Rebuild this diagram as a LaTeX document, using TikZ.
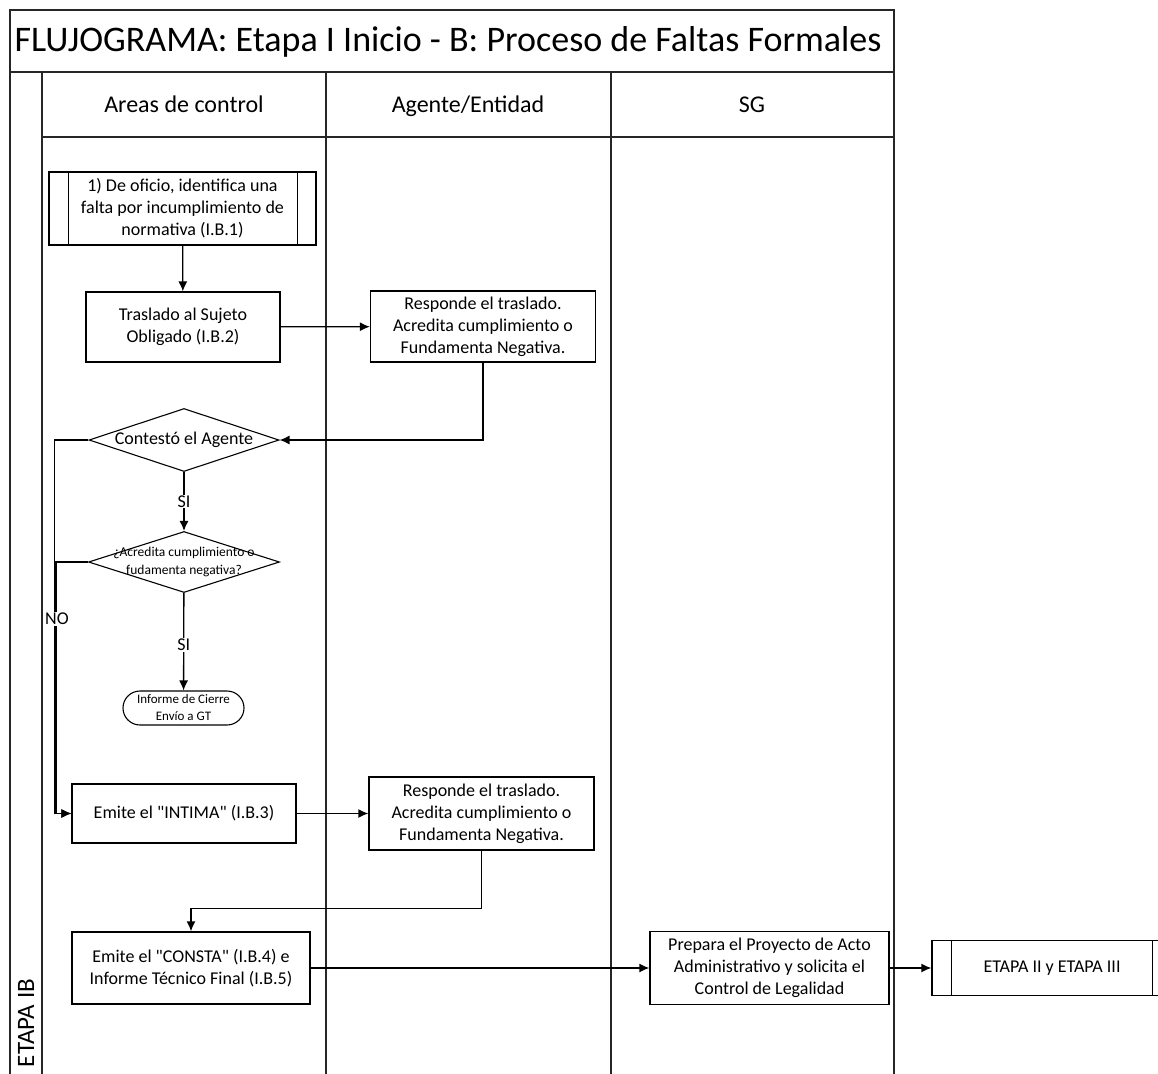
\documentclass[tikz,border=0pt]{standalone}
\usepackage{fontspec}
\setmainfont{Carlito}
\usetikzlibrary{shapes.geometric,positioning,arrows.meta}
\tikzstyle{arrow} = [line width=1.3pt,-{Latex[length=10pt,width=9pt]}]
\tikzset{
 lane/.style
  = {line width=1.3pt, black!85},
 head/.style
  = {font=\fontsize{24}{28}\selectfont, anchor=base},
 b/.style
  = {rectangle, draw, line width=1.3pt, align=center, inner sep=0pt,
     font=\fontsize{18}{22}\selectfont},
 d/.style
  = {diamond, draw, line width=1.1pt, inner sep=0pt},
 t/.style
  = {rectangle, draw, rounded corners=17pt, line width=1.1pt, align=center,
     inner sep=0pt, font=\fontsize{13}{17}\selectfont},
 lb/.style
  = {fill=white, inner sep=1pt, font=\fontsize{18}{20}\selectfont},
}

\begin{document}
\begin{tikzpicture}[x=1pt,y=-1pt]
    \useasboundingbox (0,0) rectangle (1158,1073);

    % frame and lanes
    \draw [lane] (10,1080) -- (10,10) -- (894,10) -- (894,1080);
    \draw [lane] (10,72) -- (894,72);
    \draw [lane] (42,137) -- (894,137);
    \foreach \x in {42,326,611}
      \draw [lane] (\x,72) -- (\x,1080);

    \node (title) at (448,42) {\fontsize{36}{40}\selectfont FLUJOGRAMA: Etapa I Inicio - B: Proceso de Faltas Formales};
    \node [head] (areas) at (184,112) {Areas de control};
    \node [head] (agente) at (468,112) {Agente/Entidad};
    \node [head] (sg) at (752,112) {SG};
    \node [font=\fontsize{25}{28}\selectfont, rotate=90] (etapa) at (26,1023) {ETAPA IB};

    % steps
    \node [b, minimum width=267, minimum height=73] (oficio) at (182.5,208.5) {1) De oficio, identifica una\\falta por incumplimiento de\\normativa (I.B.1)};
    \draw [line width=1.3pt] ([xshift=20]oficio.north west) -- ([xshift=20]oficio.south west);
    \draw [line width=1.3pt] ([xshift=-19]oficio.north east) -- ([xshift=-19]oficio.south east);
    \node [b, minimum width=194, minimum height=70] (traslado) at (183,327) {Traslado al Sujeto\\Obligado (I.B.2)};
    \node [b, minimum width=225, minimum height=71] (responde1) at (483,326.5) {Responde el traslado.\\Acredita cumplimiento o\\Fundamenta Negativa.};
    \node [d, minimum width=190, minimum height=63,
           label={[font=\fontsize{18}{20}\selectfont]center:Contestó el Agente}] (contesto) at (184,440) {};
    \node [d, minimum width=191, minimum height=61,
           label={[align=center, font=\fontsize{13.5}{17.5}\selectfont]center:¿Acredita cumplimiento o\\fudamenta negativa?}] (acredita) at (184,562) {};
    \node [t, minimum width=121, minimum height=34] (cierre) at (183.5,708) {Informe de Cierre\\Envío a GT};
    \node [b, minimum width=224, minimum height=59] (intima) at (184,813.5) {Emite el \textquotedbl INTIMA\textquotedbl{} (I.B.3)};
    \node [b, minimum width=225, minimum height=73] (responde2) at (481.5,813.5) {Responde el traslado.\\Acredita cumplimiento o\\Fundamenta Negativa.};
    \node [b, minimum width=238, minimum height=72] (consta) at (191,968) {Emite el \textquotedbl CONSTA\textquotedbl{} (I.B.4) e\\Informe Técnico Final (I.B.5)};
    \node [b, minimum width=239, minimum height=73] (prepara) at (769.5,968) {Prepara el Proyecto de Acto\\Administrativo y solicita el\\Control de Legalidad};
    \node [b, minimum width=240, minimum height=55] (etapas) at (1052,968) {ETAPA II y ETAPA III};
    \draw [line width=1.3pt] ([xshift=20]etapas.north west) -- ([xshift=20]etapas.south west);
    \draw [line width=1.3pt] ([xshift=-20]etapas.north east) -- ([xshift=-20]etapas.south east);

    % connectors
    \draw [arrow] (oficio) -- (traslado);
    \draw [arrow] (traslado) -- (responde1);
    \draw [arrow] (responde1.south) |- (contesto.east);
    \draw [arrow] (contesto) -- node[lb]{SI} (acredita);
    \draw [arrow] (acredita) -- node[lb, pos=0.53]{SI} (cierre);
    \draw [arrow] (contesto.west) -- ++(-34,0) |- (intima.west);
    \draw [arrow] (acredita.west) -- ++(-32,0) |- (intima.west);
    \node [lb] (no) at (57,619) {NO};
    \draw [arrow] (intima) -- (responde2);
    \draw [arrow] (responde2.south) -- ++(0,58) -| (consta.north);
    \draw [arrow] (consta) -- (prepara);
    \draw [arrow] (prepara) -- (etapas);
\end{tikzpicture}
\end{document}
